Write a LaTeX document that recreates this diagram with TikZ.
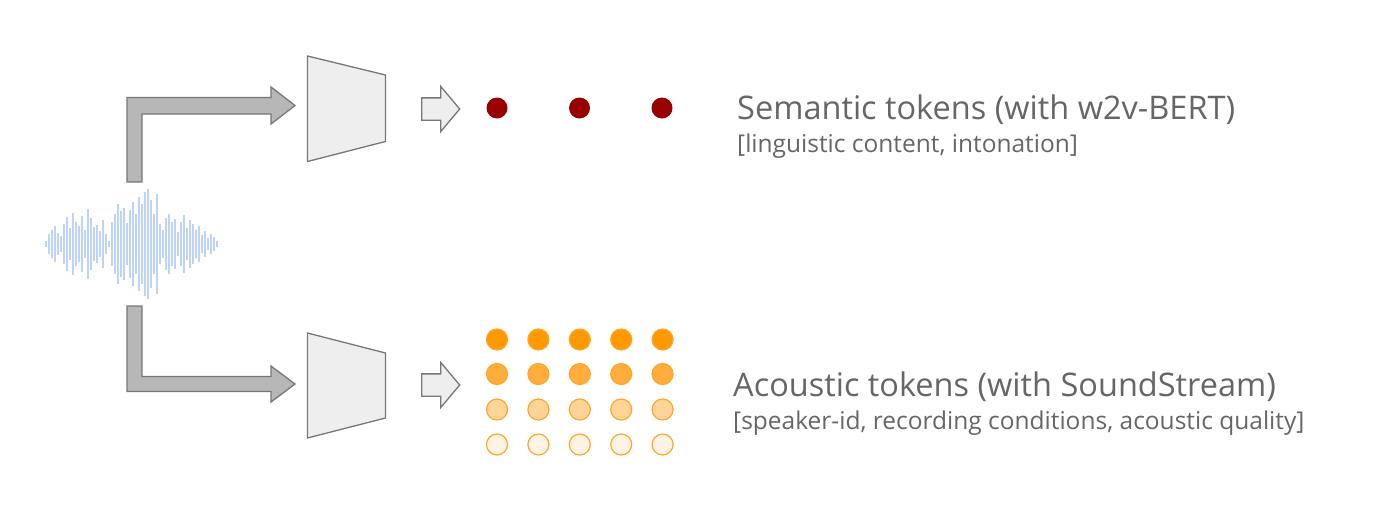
\documentclass[tikz,border=0pt]{standalone}
\usepackage{fontspec}
\setmainfont{Open Sans}
\usetikzlibrary{shapes,arrows}
\usetikzlibrary{positioning}
\definecolor{txtgray}{HTML}{666666}
\definecolor{encline}{HTML}{777777}
\definecolor{encfill}{HTML}{EEEEEE}
\definecolor{bentfill}{HTML}{B7B7B7}
\definecolor{semred}{HTML}{990000}
\definecolor{acA}{HTML}{FF9900}
\definecolor{acB}{HTML}{FFAD3D}
\definecolor{acC}{HTML}{FFD597}
\definecolor{acD}{HTML}{FFF4E4}
\definecolor{acline}{HTML}{FFA628}
\definecolor{wavecol}{HTML}{BDD3FB}
\tikzstyle{bent}=[draw=encline,fill=bentfill,line width=1.3pt,line join=miter]
\tikzstyle{enc}=[draw=encline,fill=encfill,line width=1.3pt]
\tikzstyle{thru}=[single arrow,draw=encline,fill=encfill,line width=1.3pt,
                inner sep=10.5pt,minimum height=38pt,minimum width=44pt,
                single arrow tip angle=100,single arrow head extend=11.5pt]
\tikzstyle{bar}=[draw=wavecol,line width=2pt]
\tikzstyle{tok}=[circle,inner sep=0,minimum size=21pt]
\tikzstyle{semtok}=[tok,fill=semred]
\tikzstyle{acrow}=[every node/.style={tok,fill=#1,draw=acline,line width=1.2pt}]
\tikzstyle{title}=[anchor=base west,text=txtgray,font=\fontsize{32.5}{38}\selectfont,inner sep=0]
\tikzstyle{sub}=[anchor=base west,text=txtgray,font=\fontsize{24.5}{29}\selectfont,inner sep=0]

\begin{document}
\begin{tikzpicture}[x=1pt,y=-1pt,node distance=41.4pt]
\useasboundingbox (0,0) rectangle (1400,509);

% waveform
\node (wav) at (131,244) [minimum width=175pt,minimum height=110pt] {};
\foreach \h [count=\i from 0] in {3,10,14,18,11,8,20,27,16,31,22,18,28,14,35,26,17,19,13,24,
  10,3,22,30,40,33,36,21,34,42,30,47,40,52,55,44,30,50,20,14,26,30,22,25,12,22,29,16,24,20,
  14,18,9,13,6,10,7,3}
  \draw[bar] (46+3*\i,244-\h) -- (46+3*\i,244+\h);

% encoders
\coordinate (e1) at (307.5,109);
\coordinate (e2) at (307.5,385.5);
\draw[enc] (307.5,56) -- (385.5,75) -- (385.5,141.5) -- (307.5,161.5) -- cycle;
\draw[enc] (307.5,333) -- (385.5,353) -- (385.5,418) -- (307.5,438) -- cycle;

% bent arrows wav -> encoders
\draw[bent] (127,182) -- (127,97.5) -- (271,97.5) -- (271,87) -- (295,105.5)
  -- (271,124) -- (271,114) -- (142,114) -- (142,182) -- cycle;
\draw[bent] (127,306) -- (142,306) -- (142,376.5) -- (271,376.5) -- (271,366)
  -- (295,384) -- (271,402) -- (271,391.5) -- (127,391.5) -- cycle;

\node[thru] (t1) at (436,109) {};
\node[thru] (t2) at (436,385) {};

% semantic tokens
\node[semtok] (s1) at (497,108) {};
\node[semtok,right of=s1,node distance=82.5pt] (s2) {};
\node[semtok,right of=s2,node distance=82.5pt] (s3) {};

% acoustic tokens
\foreach \c/\y in {acA/339.5,acB/374,acC/409.5,acD/444.5}
  \path[acrow=\c] (497,\y) node {} ++(41.4,0) node {} ++(41.4,0) node {}
    ++(41.4,0) node {} ++(41.4,0) node {};

\node[title] (semt) at (737,119) {Semantic tokens (with w2v-BERT)};
\node[sub] (seml) at (737,152) {[linguistic content, intonation]};
\node[title] (act) at (733,396) {Acoustic tokens (with SoundStream)};
\node[sub] (acl) at (733,429) {[speaker-id, recording conditions, acoustic quality]};
\end{tikzpicture}
\end{document}
